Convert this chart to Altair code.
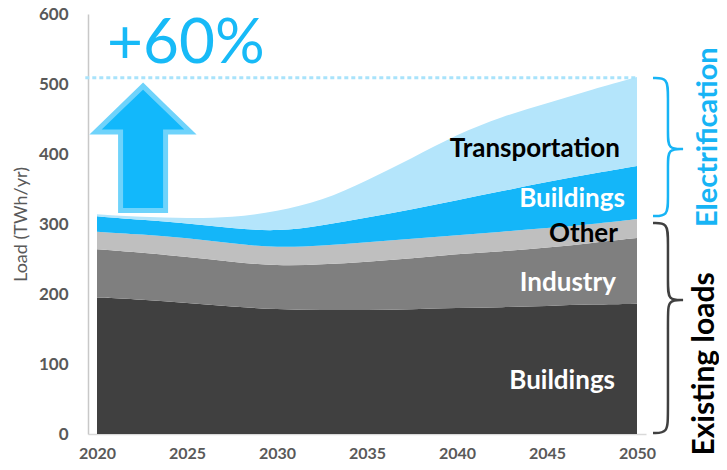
import altair as alt
import pandas as pd

# ---------------- data ----------------
years = [2020, 2022.5, 2025, 2027.5, 2030, 2032.5, 2035, 2037.5, 2040, 2042.5, 2045, 2047.5, 2050]
existing_buildings = [195, 192, 187, 182, 178, 177, 177, 178, 180, 181, 183, 185, 186]
industry = [69, 67, 66, 64, 62, 65, 69, 73, 77, 80, 83, 88, 94]
other = [25, 26, 27, 26, 26, 27, 28, 28, 27, 28, 28, 27, 27]
elec_buildings = [22, 21, 21, 22, 23, 29, 35, 42, 50, 58, 66, 72, 76]
transportation = [3, 4, 7, 15, 29, 35, 53, 73, 94, 107, 112, 120, 127]

series_names = ["Buildings (existing)", "Industry", "Other", "Buildings (electrification)", "Transportation"]
series_colors = ["#404040", "#7f7f7f", "#bfbfbf", "#14b6f9", "#b4e5fb"]

x_ticks = [2020, 2025, 2030, 2035, 2040, 2045, 2050]
y_ticks = [0, 100, 200, 300, 400, 500, 600]

# in-chart labels
label_text = ["Transportation", "Buildings", "Other", "Industry", "Buildings"]
label_x = [2049.05, 2049.33, 2048.94, 2048.83, 2048.78]
label_y = [395.7, 324.3, 274.3, 204.3, 63.9]
label_color = ["#000000", "#ffffff", "#000000", "#ffffff", "#ffffff"]

growth_text = "+60%"
growth_x = [2020.56]
growth_y = [529.6]
target_level = [509]
target_x = [2019.35]
target_x2 = [2050.0]

# up arrow outline (data units)
arrow_x = [2019.92, 2021.31, 2021.31, 2022.56, 2023.81, 2023.81, 2025.19]
arrow_top = [431.4, 466.0, 466.0, 497.0, 465.8, 465.8, 431.4]
arrow_bottom = [431.4, 431.4, 319.3, 319.3, 319.3, 431.4, 431.4]

# braces (control points, data units)
elec_brace_x = [2050.89, 2051.72, 2051.72, 2051.72, 2051.72, 2052.56, 2052.56, 2052.56,
                2051.72, 2051.72, 2051.72, 2051.72, 2050.89]
elec_brace_y = [508.6, 508.6, 484.3, 427.1, 407.1, 407.1, 407.1, 407.1,
                407.1, 387.1, 334.3, 311.4, 311.4]
exist_brace_x = [2050.89, 2051.72, 2051.72, 2051.72, 2051.72, 2052.56, 2052.56, 2052.56,
                 2051.72, 2051.72, 2051.72, 2051.72, 2050.89]
exist_brace_y = [301.4, 301.4, 277.1, 212.9, 191.4, 191.4, 191.4, 191.4,
                 191.4, 170.0, 27.1, 1.4, 1.4]

side_text = ["Electrification", "Existing  loads"]
side_x = [2054.44, 2054.3]
side_y = [424, 100]
side_color = ["#17b4f5", "#000000"]
side_size = [29, 30]

# ---------------- build tables ----------------
rows = []
for i, (name, vals) in enumerate(zip(series_names, [existing_buildings, industry, other, elec_buildings, transportation])):
    for yr, v in zip(years, vals):
        rows.append({"year": yr, "load": v, "series": name, "order": i})
df = pd.DataFrame(rows)

labels_df = pd.DataFrame({"x": label_x, "y": label_y, "text": label_text, "color": label_color})
side_df = pd.DataFrame({"x": side_x, "y": side_y, "text": side_text, "color": side_color, "size": side_size})

x_scale = alt.Scale(domain=[2019.5, 2050.5], nice=False, zero=False)
y_scale = alt.Scale(domain=[0, 600], nice=False)

FONT = "Lato"
GREY = "#595959"

x_axis = alt.Axis(values=x_ticks, format="d", title=None, grid=False, ticks=False, tickSize=0,
                  domainColor="#d9d9d9", domainWidth=1.5, labelColor=GREY, labelFont=FONT,
                  labelFontSize=16, labelFontWeight="bold", labelPadding=11)
y_axis = alt.Axis(values=y_ticks, title="Load (TWh/yr)", grid=False, ticks=False, tickSize=0,
                  domainColor="#c8c8c8", domainWidth=1.5, labelColor=GREY, labelFont=FONT,
                  labelFontSize=17, labelFontWeight="bold", labelPadding=20,
                  titleColor=GREY, titleFont=FONT, titleFontSize=18, titleFontWeight="normal",
                  titleX=-62, titleY=210, titleAngle=270, titleAlign="center", titleBaseline="alphabetic")


def X(field):
    return alt.X(field, scale=x_scale, axis=x_axis)


def Y(field):
    return alt.Y(field, scale=y_scale, axis=y_axis)


area = alt.Chart(df).mark_area(interpolate="basis").encode(
    x=X("year:Q"),
    y=alt.Y("load:Q", stack="zero", scale=y_scale, axis=y_axis),
    color=alt.Color("series:N", scale=alt.Scale(domain=series_names, range=series_colors), legend=None),
    order=alt.Order("order:Q"),
)

labels = alt.Chart(labels_df).mark_text(font=FONT, fontSize=26, fontWeight="bold", align="right",
                                        baseline="alphabetic").encode(
    x=X("x:Q"), y=Y("y:Q"), text="text:N", color=alt.Color("color:N", scale=None))

target_df = pd.DataFrame({"x": target_x, "x2": target_x2, "y": target_level})
target = alt.Chart(target_df).mark_rule(color="#a9e3fb", strokeWidth=3, strokeDash=[4, 3]).encode(
    x=X("x:Q"), x2="x2:Q", y=Y("y:Q"))

growth_df = pd.DataFrame({"x": growth_x, "y": growth_y, "text": [growth_text]})
growth = alt.Chart(growth_df).mark_text(font=FONT, fontSize=62, fontWeight="normal", align="left",
                                        baseline="alphabetic", color="#17baf7").encode(
    x=X("x:Q"), y=Y("y:Q"), text="text:N")

arrow_df = pd.DataFrame({"x": arrow_x, "top": arrow_top, "bottom": arrow_bottom})
arrow = alt.Chart(arrow_df).mark_area(interpolate="linear", color="#12b8fb", stroke="#6fd3fb",
                                      strokeWidth=5, opacity=1, fillOpacity=1,
                                      strokeJoin="miter").encode(
    x=X("x:Q"), y=alt.Y("top:Q", scale=y_scale, axis=y_axis, stack=None), y2="bottom:Q")

eb_df = pd.DataFrame({"x": elec_brace_x, "y": elec_brace_y, "i": list(range(len(elec_brace_x)))})
xb_df = pd.DataFrame({"x": exist_brace_x, "y": exist_brace_y, "i": list(range(len(exist_brace_x)))})
elec_brace = alt.Chart(eb_df).mark_line(interpolate="basis", color="#17b4f5", strokeWidth=2.5).encode(
    x=X("x:Q"), y=Y("y:Q"), order=alt.Order("i:Q"))
exist_brace = alt.Chart(xb_df).mark_line(interpolate="basis", color="#404040", strokeWidth=2.5).encode(
    x=X("x:Q"), y=Y("y:Q"), order=alt.Order("i:Q"))

side = alt.Chart(side_df).mark_text(font=FONT, fontWeight="bold", align="center",
                                    baseline="alphabetic", angle=270).encode(
    x=X("x:Q"), y=Y("y:Q"), text="text:N", color=alt.Color("color:N", scale=None),
    size=alt.Size("size:Q", scale=None))

chart = alt.layer(area, target, arrow, growth, labels, elec_brace, exist_brace, side).properties(
    width=558, height=420,
    autosize=alt.AutoSizeParams(type="none"),
    padding={"left": 80, "top": 6, "right": 73, "bottom": 28},
).configure_view(stroke=None)

chart.save("out.html", embed_options={"renderer": "svg", "actions": False})
